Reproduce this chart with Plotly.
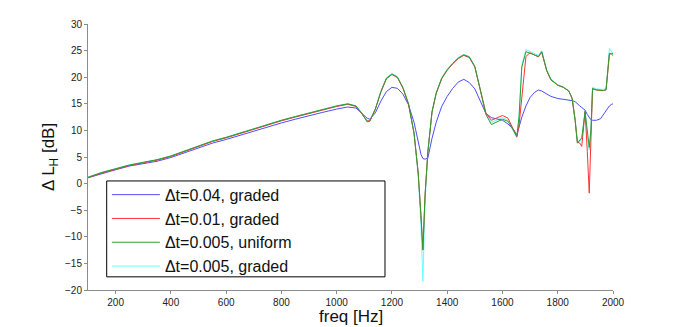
import plotly.graph_objects as go

# frequency samples [Hz]
freq = [100, 150, 200, 250, 300, 350, 400, 450, 500, 550, 600, 650, 700, 750,
        800, 850, 900, 950, 1000, 1040, 1070, 1090, 1110, 1120, 1140, 1160,
        1180, 1200, 1220, 1240, 1260, 1280, 1295, 1305, 1312, 1320, 1330,
        1345, 1360, 1380, 1400, 1420, 1440, 1460, 1480, 1500, 1520, 1540,
        1560, 1580, 1600, 1620, 1640, 1652, 1660, 1670, 1685, 1700, 1715,
        1730, 1742, 1760, 1775, 1800, 1820, 1840, 1852, 1863, 1871, 1880,
        1887, 1899, 1907, 1914, 1920, 1926, 1940, 1955, 1965, 1975, 1987,
        1995, 2000]

# Delta L_H [dB] per run
dt004_graded = [1.1, 1.9, 2.6, 3.3, 3.8, 4.2, 4.9, 5.8, 6.8, 7.6, 8.3, 9.1, 9.9, 10.7,
                11.4, 12.1, 12.8, 13.4, 14.0, 14.4, 14.2, 13.3, 12.3, 12.1, 13.3, 15.5,
                17.3, 18.1, 17.9, 16.8, 14.8, 11.5, 7.8, 5.5, 4.7, 4.6, 4.8,
                8.5, 11.5, 14.5, 16.4, 17.9, 19.1, 19.6, 19.0, 17.8, 15.5, 13.2,
                12.4, 12.1, 11.9, 11.2, 10.2, 9.1, 10.6, 12.5, 14.6, 16.2, 17.1,
                17.6, 17.4, 16.9, 16.4, 16.0, 15.9, 15.8, 15.6, 15.4, 15.1, 14.6,
                14.3, 13.8, 13.0, 12.4, 12.0, 11.9, 11.9, 12.2, 12.9, 13.8, 14.6,
                14.9, 15.0]

dt001_graded = [1.1, 2.0, 2.7, 3.4, 3.9, 4.4, 5.1, 6.0, 7.0, 7.9, 8.6, 9.4, 10.2, 11.1,
                11.8, 12.5, 13.2, 13.8, 14.5, 14.9, 14.5, 13.2, 11.8, 11.8, 14.0, 17.2,
                19.7, 20.5, 19.9, 17.9, 14.9, 9.4, 2.0, -6.0, -12.5, -2.0, 6.0,
                13.4, 16.9, 19.7, 21.3, 22.5, 23.5, 24.1, 23.7, 21.9, 17.4, 13.3,
                11.9, 12.3, 12.8, 12.3, 10.2, 8.8, 11.0, 16.5, 23.9, 24.6, 24.2,
                23.8, 24.7, 21.2, 19.5, 18.5, 18.1, 17.4, 16.0, 11.9, 7.8, 7.6,
                7.0, 13.6, 6.0, -1.8, 8.0, 17.8, 17.6, 17.5, 17.5, 17.6, 24.3,
                24.5, 24.4]

dt0005_uniform = [1.2, 2.1, 2.8, 3.5, 4.0, 4.5, 5.2, 6.1, 7.1, 8.0, 8.7, 9.5, 10.3, 11.2,
                  11.9, 12.6, 13.3, 13.9, 14.6, 15.0, 14.6, 13.3, 11.6, 11.7, 14.0, 17.3,
                  19.8, 20.6, 20.0, 18.0, 15.0, 9.5, 2.0, -6.0, -12.4, -2.0, 6.0,
                  13.5, 17.0, 19.8, 21.4, 22.6, 23.6, 24.2, 23.8, 22.0, 17.5, 13.0,
                  11.1, 11.6, 12.1, 11.7, 10.0, 8.9, 12.5, 21.9, 24.8, 24.5, 24.1,
                  23.9, 24.8, 21.3, 19.6, 18.5, 18.1, 17.4, 16.0, 11.9, 7.6, 8.2,
                  8.6, 13.5, 9.5, 6.8, 10.0, 17.9, 17.6, 17.5, 17.5, 17.7, 24.5,
                  24.3, 24.1]

dt0005_graded = [1.2, 2.1, 2.8, 3.5, 4.0, 4.5, 5.2, 6.1, 7.1, 8.0, 8.7, 9.5, 10.3, 11.2,
                 11.9, 12.6, 13.3, 13.9, 14.6, 15.0, 14.6, 13.3, 11.7, 11.8, 14.1, 17.4,
                 19.9, 20.7, 20.1, 18.1, 15.0, 9.5, 1.5, -8.0, -18.4, -3.0, 5.8,
                 13.5, 17.1, 19.9, 21.5, 22.7, 23.7, 24.3, 23.9, 22.1, 17.6, 13.2,
                 11.5, 11.9, 12.4, 11.9, 10.0, 8.6, 12.8, 22.3, 25.2, 24.8, 24.4,
                 24.1, 25.0, 21.4, 19.7, 18.6, 18.2, 17.5, 16.1, 12.2, 8.0, 8.0,
                 8.3, 13.8, 9.0, 6.3, 9.5, 18.1, 17.8, 17.7, 17.7, 17.9, 25.4,
                 24.8, 24.6]

# (name, values, colour, legend position); drawing order puts green on top
series = [
    ("\u0394t=0.005, graded", dt0005_graded, "#66ffff", 4),
    ("\u0394t=0.04, graded", dt004_graded, "#4d4dff", 1),
    ("\u0394t=0.01, graded", dt001_graded, "#ff3333", 2),
    ("\u0394t=0.005, uniform", dt0005_uniform, "#2e9e2e", 3),
]

fig = go.Figure()
for name, vals, color, rank in series:
    fig.add_trace(go.Scatter(
        x=freq, y=vals, mode="lines", name=name,
        line=dict(color=color, width=1),
        legendrank=rank,
    ))

axis_style = dict(
    showline=True, linecolor="#8c8c8c", linewidth=1,
    ticks="outside", ticklen=3, tickcolor="#8c8c8c",
    showgrid=False, zeroline=False, mirror=False, automargin=False,
    tickfont=dict(size=10, color="#222222"),
)

# legend frame (MATLAB draws a wide box)
fig.add_shape(type="rect", xref="paper", yref="paper",
              x0=0.0356, x1=0.5657, y0=0.0495, y1=0.41,
              line=dict(color="black", width=1), fillcolor="white", layer="above")

# axis titles placed as annotations for exact placement
fig.add_annotation(text="freq [Hz]", xref="paper", yref="paper", x=0.5, y=0,
                   xanchor="center", yanchor="middle", yshift=-26,
                   showarrow=False, font=dict(size=17), borderpad=0)
fig.add_annotation(text="\u0394 L<sub>H</sub> [dB]", xref="paper", yref="paper",
                   x=0, y=0.5, xanchor="center", yanchor="middle", xshift=-38,
                   textangle=-90, showarrow=False, font=dict(size=17))

# page body adds 8px around the plot, so the figure is sized for that
fig.update_layout(
    width=669, height=319,
    margin=dict(l=80, r=64, t=16, b=37),
    paper_bgcolor="white", plot_bgcolor="white",
    font=dict(family="Liberation Sans, Arial, sans-serif", color="#111111"),
    xaxis=dict(range=[100, 2000], tickvals=list(range(200, 2001, 200)), **axis_style),
    yaxis=dict(range=[-20, 30], tickvals=list(range(-20, 31, 5)), **axis_style),
    legend=dict(
        x=0.036, y=0.422, xanchor="left", yanchor="top",
        bgcolor="rgba(0,0,0,0)", borderwidth=0,
        font=dict(size=16), tracegroupgap=0, itemwidth=48,
    ),
    showlegend=True,
)

fig.write_html("out.html")
